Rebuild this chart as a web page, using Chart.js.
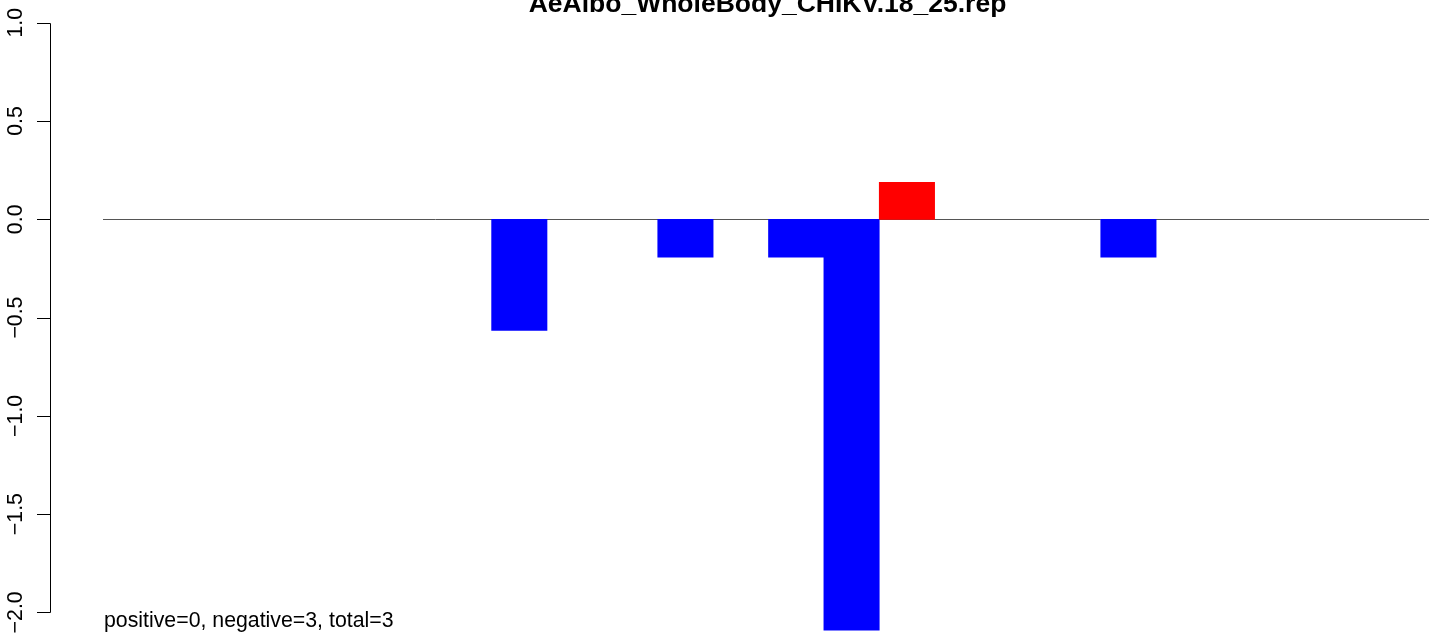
<!DOCTYPE html>
<html>
<head>
<meta charset="utf-8">
<script src="https://cdn.jsdelivr.net/npm/chart.js@4/dist/chart.umd.min.js"></script>
<style>
  html, body { margin: 0; padding: 0; background: #fff; overflow: hidden; }
  #wrap { width: 1434px; height: 634px; }
</style>
</head>
<body>
<div id="wrap"><canvas id="c" width="1434" height="634"></canvas></div>
<script>
const titleText = "AeAlbo_WholeBody_CHIKV.18_25.rep";
const footerText = "positive=0, negative=3, total=3";
const categories = ["1","2","3","4","5","6","7","8","9","10","11","12","13","14","15","16","17","18","19","20","21","22","23","24"];
const values = [null,null,null,null,null,null,null,-0.565,null,null,-0.193,null,-0.193,-2.09,0.188,null,null,null,-0.193,null,null,null,null,null];
const yTicks = [-2.0, -1.5, -1.0, -0.5, 0.0, 0.5, 1.0];
const yTickLabels = ["\u22122.0", "\u22121.5", "\u22121.0", "\u22120.5", "0.0", "0.5", "1.0"];

const FONT = '"Liberation Sans", Arial, Helvetica, sans-serif';

const rPlot = {
  id: 'rPlot',
  beforeDatasetsDraw(chart) {
    const ctx = chart.ctx, y = chart.scales.y, a = chart.chartArea;
    const y0 = Math.round(y.getPixelForValue(0)) + 0.5;
    ctx.save();
    ctx.strokeStyle = '#555555';
    ctx.lineWidth = 1;
    ctx.beginPath();
    ctx.moveTo(a.left - 1, y0);
    ctx.lineTo(a.right, y0);
    ctx.stroke();
    ctx.restore();
  },
  afterDraw(chart) {
    const ctx = chart.ctx, y = chart.scales.y;
    ctx.save();
    const axX = 50.5;
    const top = Math.round(y.getPixelForValue(yTicks[yTicks.length - 1])) + 0.5;
    const bot = Math.round(y.getPixelForValue(yTicks[0])) + 0.5;
    ctx.strokeStyle = '#000';
    ctx.lineWidth = 1;
    ctx.beginPath();
    ctx.moveTo(axX, top);
    ctx.lineTo(axX, bot);
    yTicks.forEach(v => {
      const py = Math.round(y.getPixelForValue(v)) + 0.5;
      ctx.moveTo(axX, py);
      ctx.lineTo(37, py);
    });
    ctx.stroke();
    ctx.fillStyle = '#000';
    ctx.font = '21.3px ' + FONT;
    ctx.textAlign = 'center';
    ctx.textBaseline = 'alphabetic';
    yTicks.forEach((v, i) => {
      const py = y.getPixelForValue(v);
      ctx.save();
      ctx.translate(22, py);
      ctx.rotate(-Math.PI / 2);
      ctx.fillText(yTickLabels[i], 0, 0);
      ctx.restore();
    });
    ctx.font = 'bold 26.5px ' + FONT;
    ctx.textAlign = 'center';
    ctx.fillText(titleText, 767.5, 12);
    ctx.font = '21.3px ' + FONT;
    ctx.textAlign = 'left';
    ctx.fillText(footerText, 104, 627);
    ctx.restore();
  }
};

new Chart(document.getElementById('c'), {
  type: 'bar',
  data: {
    labels: categories,
    datasets: [{
      data: values,
      backgroundColor: values.map(v => (v !== null && v > 0) ? '#FF0000' : '#0000FF'),
      borderWidth: 0,
      categoryPercentage: 1.0,
      barPercentage: 1.0
    }]
  },
  options: {
    responsive: false,
    animation: false,
    events: [],
    layout: { padding: { left: 104, right: 1, top: 0, bottom: 0 } },
    plugins: { legend: { display: false }, tooltip: { enabled: false }, title: { display: false } },
    scales: {
      x: { display: false, offset: true },
      y: { display: false, min: -2.110, max: 1.116 }
    }
  },
  plugins: [rPlot]
});
</script>
</body>
</html>
